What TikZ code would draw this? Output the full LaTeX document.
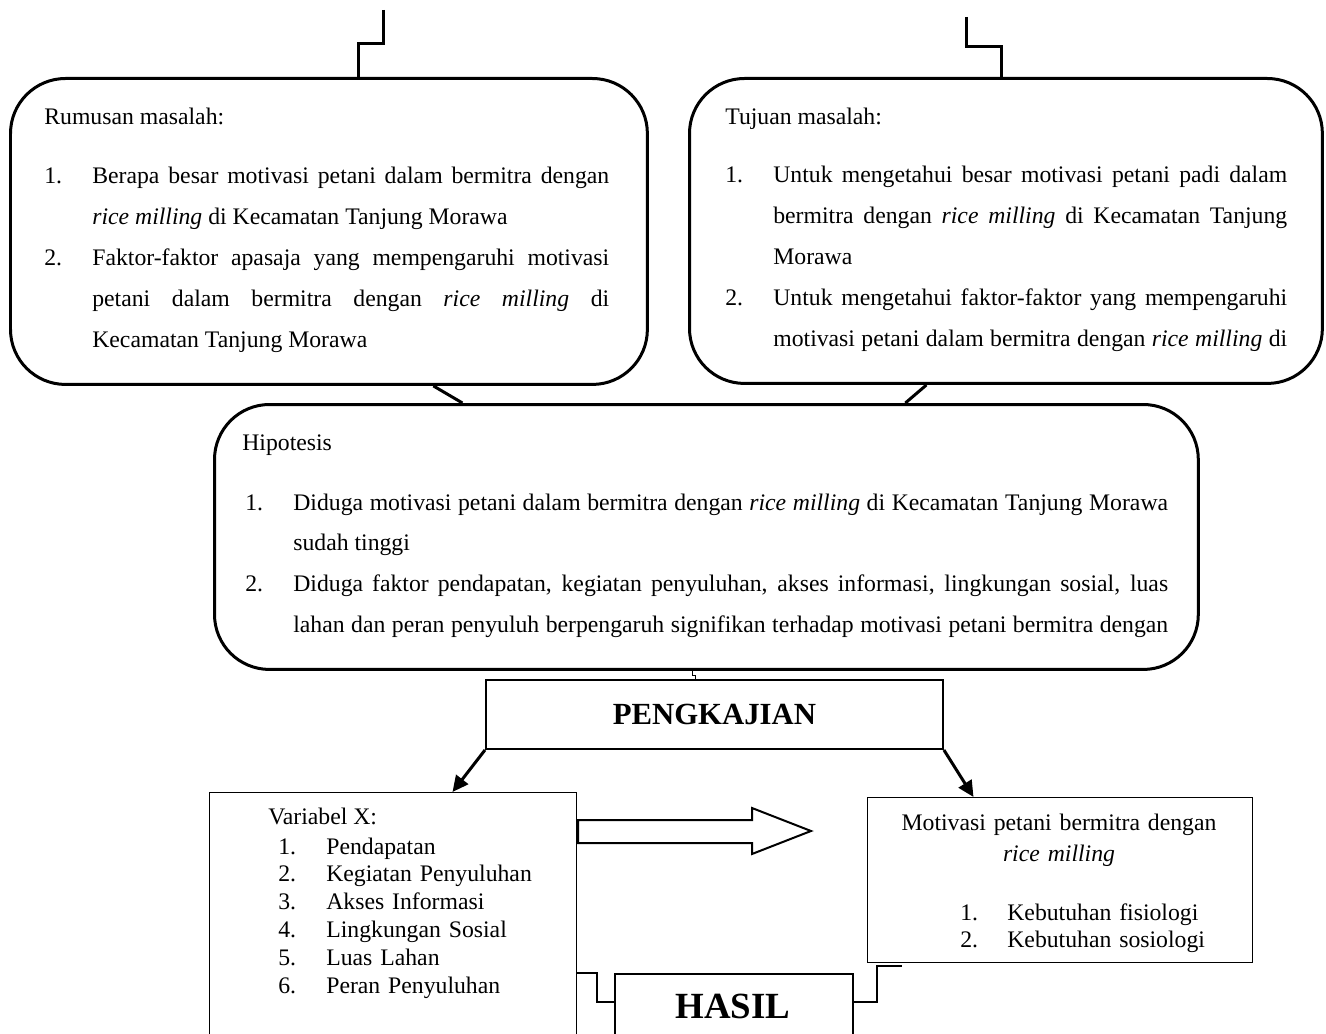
\documentclass[tikz,border=0pt]{standalone}
\usepackage{fontspec}
\setmainfont{Liberation Serif}
\usetikzlibrary{arrows.meta}

\newcommand{\butir}[2]{\noindent\hangindent=0.96cm\hangafter=1\makebox[0.96cm][l]{#1}#2\par}
\newcommand{\butirpenuh}[2]{{\parfillskip=0pt\butir{#1}{#2}}}
\newcommand{\ricemill}{\emph{rice milling}}

\begin{document}
\begin{tikzpicture}[x=0.02cm, y=-0.02cm,
	bulat/.style={draw, rounded corners=1.1cm, line width=0.06cm, inner sep=0pt, anchor=north west},
	kotak/.style={draw, line width=0.04cm, inner sep=0pt, anchor=north west},
	kotak tipis/.style={draw, line width=0.6pt, inner sep=0pt, anchor=north west},
	isi/.style={font=\fontsize{13.5}{23.3}\selectfont, inner sep=0pt, anchor=base west},
	isi rapat/.style={font=\fontsize{13.5}{15.9}\selectfont, inner sep=0pt, anchor=base west, align=left},
	sambung/.style={line width=0.06cm},
	panah/.style={-{Triangle[length=0.32cm,width=0.3cm]}, line width=0.06cm}]

	\useasboundingbox (0,0) rectangle (1326,1034);
	\clip (0,0) rectangle (1326,1034);

	% kotak
	\node[bulat, minimum width=12.74cm, minimum height=6.12cm] (rumusan) at (9,77) {};
	\node[bulat, minimum width=12.66cm, minimum height=6.10cm] (tujuan) at (688,77) {};
	\node[bulat, minimum width=19.68cm, minimum height=5.30cm] (hipotesis) at (213,403) {};
	\node[kotak, minimum width=9.14cm, minimum height=1.38cm, font=\bfseries\fontsize{17.5}{20}\selectfont] (pengkajian) at (485,679) {PENGKAJIAN};
	\node[kotak tipis, minimum width=7.34cm, minimum height=5.2cm] (variabel) at (209,792) {};
	\node[kotak tipis, minimum width=7.70cm, minimum height=3.30cm] (motivasi) at (867,797) {};
	\node[kotak, minimum width=4.76cm, minimum height=1.6cm] (hasil) at (614,973) {};

	% teks
	\node[isi] (judulRumusan) at (44,125) {Rumusan masalah:};
	\node[isi, text width=11.3cm, align=justify] (daftarRumusan) at (44,184) {%
		\butir{1.}{Berapa besar motivasi petani dalam bermitra dengan\linebreak \ricemill{} di Kecamatan Tanjung Morawa}%
		\butir{2.}{Faktor-faktor apasaja yang mempengaruhi motivasi\linebreak petani dalam bermitra dengan \ricemill{} di\linebreak Kecamatan Tanjung Morawa}};

	\node[isi] (judulTujuan) at (725,125) {Tujuan masalah:};
	\node[isi, text width=11.24cm, align=justify] (daftarTujuan) at (725,183) {%
		\butir{1.}{Untuk mengetahui besar motivasi petani padi dalam\linebreak bermitra dengan \ricemill{} di Kecamatan Tanjung\linebreak Morawa}%
		\butirpenuh{2.}{Untuk mengetahui faktor-faktor yang mempengaruhi\linebreak motivasi petani dalam bermitra dengan \ricemill{} di}};

	\node[isi] (judulHipotesis) at (242,450) {Hipotesis};
	\node[isi, text width=18.46cm, align=justify] (daftarHipotesis) at (245,510) {%
		\butir{1.}{Diduga motivasi petani dalam bermitra dengan \ricemill{} di Kecamatan Tanjung Morawa\linebreak sudah tinggi}%
		\butirpenuh{2.}{Diduga faktor pendapatan, kegiatan penyuluhan, akses informasi, lingkungan sosial, luas\linebreak lahan dan peran penyuluh berpengaruh signifikan terhadap motivasi petani bermitra dengan}};

	\node[isi] (judulVariabel) at (268,824) {Variabel X:};
	\node[isi rapat, text width=6cm] (daftarVariabel) at (278,854) {
		\makebox[0.96cm][l]{1.}Pendapatan\\
		\makebox[0.96cm][l]{2.}Kegiatan Penyuluhan\\
		\makebox[0.96cm][l]{3.}Akses Informasi\\
		\makebox[0.96cm][l]{4.}Lingkungan Sosial\\
		\makebox[0.96cm][l]{5.}Luas Lahan\\
		\makebox[0.96cm][l]{6.}Peran Penyuluhan};

	\node[isi, text width=7cm, align=center, anchor=base, font=\fontsize{13.5}{18.2}\selectfont] (judulMotivasi) at (1059,830) {Motivasi petani bermitra dengan\\ \ricemill};
	\node[isi rapat, text width=6cm, font=\fontsize{13.5}{15.4}\selectfont] (daftarMotivasi) at (960,920) {
		\makebox[0.94cm][l]{1.}Kebutuhan fisiologi\\
		\makebox[0.94cm][l]{2.}Kebutuhan sosiologi};

	\node[inner sep=0pt, anchor=base, font=\bfseries\fontsize{21}{24}\selectfont] (teksHasil) at (733,1018) {HASIL};

	% penghubung
	\coordinate (atasKiri) at (383,10);
	\coordinate (atasKanan) at (966,17);
	\coordinate (ujungKanan) at (902,966);

	\draw[sambung] (atasKiri) -- ++(0,34) -| ([xshift=0.59cm]rumusan.north);
	\draw[sambung] (atasKanan) -- ++(0,30) -| ([xshift=-0.09cm]tujuan.north);
	\draw[sambung] ([xshift=2.09cm]rumusan.south) -- ([xshift=-4.88cm]hipotesis.north);
	\draw[sambung] ([xshift=-1.59cm]tujuan.south) -- ([xshift=3.98cm]hipotesis.north);
	\draw[line width=0.6pt] ([xshift=-0.28cm]hipotesis.south) -- ++(0,5) -| ([xshift=-0.37cm]pengkajian.north);

	\draw[panah] (pengkajian.south west) -- ([xshift=1.19cm]variabel.north);
	\draw[panah] (pengkajian.south east) -- ([xshift=-1.73cm]motivasi.north);

	\draw[line width=0.04cm] (578,820) -- (752,820) -- (752,808) -- (811,831) -- (752,854) -- (752,843) -- (578,843) -- cycle;

	\draw[line width=0.04cm] (variabel.east |- hasil.north) -- ++(20,0) |- ([yshift=-0.58cm]hasil.north west);
	\draw[line width=0.04cm] ([yshift=-0.58cm]hasil.north east) -- ++(23,0) |- (ujungKanan);
\end{tikzpicture}
\end{document}
